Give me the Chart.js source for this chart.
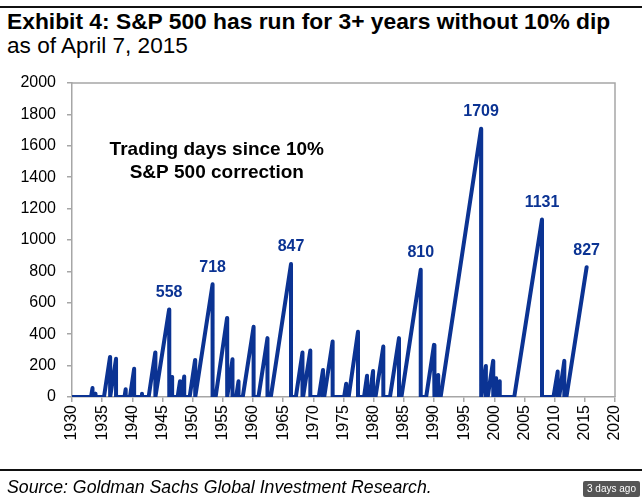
<!DOCTYPE html>
<html>
<head>
<meta charset="utf-8">
<script src="https://cdn.jsdelivr.net/npm/chart.js@4"></script>
<style>
  body { margin: 0; background: #fff; font-family: "Liberation Sans", Arial, sans-serif; }
  #wrap { position: relative; width: 642px; height: 499px; overflow: hidden; }
  #topline { position: absolute; left: 0; top: 6px; width: 642px; height: 2px; background: #111; }
  #title { position: absolute; left: 7px; top: 8px; font-size: 22.8px; font-weight: bold; color: #000; white-space: nowrap; }
  #sub { position: absolute; left: 7px; top: 33px; font-size: 22.6px; color: #000; white-space: nowrap; }
  #chartbox { position: absolute; left: 0; top: 0; width: 642px; height: 499px; }
  #botline { position: absolute; left: 0; top: 469px; width: 642px; height: 2px; background: #111; }
  #source { position: absolute; left: 7px; top: 477px; font-size: 17.7px; font-style: italic; color: #000; white-space: nowrap; }
  #badge { position: absolute; left: 583px; top: 481px; width: 57px; height: 16px; background: #555; color: #fff;
           font-size: 10px; line-height: 16px; text-align: center; border-radius: 2px; }
</style>
</head>
<body>
<div id="wrap">
  <div id="topline"></div>
  <div id="title">Exhibit 4: S&amp;P 500 has run for 3+ years without 10% dip</div>
  <div id="sub">as of April 7, 2015</div>
  <div id="chartbox"><canvas id="c" width="642" height="499"></canvas></div>
  <div id="botline"></div>
  <div id="source">Source: Goldman Sachs Global Investment Research.</div>
  <div id="badge">3 days ago</div>
</div>
<script>
// each run: day count restarts at startYears[i], reaches peakValues[i] at peakYears[i], then resets to 0
const startYears = [1933.15, 1933.75, 1935.3, 1936.35, 1938.7, 1939.6, 1941.5, 1942.7, 1943.85, 1946.15,
  1947.5, 1948.1, 1949.5, 1950.45, 1953.8, 1955.75, 1957.2, 1958.3, 1960.9, 1962.95,
  1967.1, 1968.3, 1970.9, 1971.8, 1975.1, 1975.85, 1978.4, 1979.3, 1980.3, 1982.7,
  1984.6, 1988.7, 1990.15, 1991.1, 1997.85, 1998.9, 1999.85, 2000.5, 2003.3, 2009.8,
  2010.75, 2011.95];
const peakYears = [1933.4, 1933.9, 1936.3, 1937.3, 1938.9, 1940.3, 1941.6, 1943.8, 1946.1, 1946.6,
  1947.9, 1948.6, 1950.4, 1953.3, 1955.7, 1956.6, 1957.6, 1960.1, 1962.4, 1966.3,
  1968.2, 1969.5, 1971.6, 1973.2, 1975.45, 1977.4, 1978.9, 1979.9, 1981.6, 1984.2,
  1987.8, 1990.0, 1990.7, 1997.8, 1998.6, 1999.8, 2000.3, 2000.9, 2007.9, 2010.5,
  2011.6, 2015.3];
const peakValues = [57, 20, 255, 243, 50, 180, 20, 283, 558, 128,
  100, 130, 236, 718, 503, 240, 100, 447, 375, 847,
  283, 296, 172, 353, 85, 415, 135, 165, 321, 375,
  810, 332, 140, 1709, 198, 230, 120, 100, 1131, 162,
  230, 827];
const labeledPeaks = [558, 718, 847, 810, 1709, 1131, 827];
const yTicks = [0, 200, 400, 600, 800, 1000, 1200, 1400, 1600, 1800, 2000];
const noteLines = ['Trading days since 10%', 'S&P 500 correction'];

const blue = '#0b3393';
const axisGray = '#a6a6a6';

// build the sawtooth
const pts = [{ x: 1930, y: 0 }];
startYears.forEach((s, i) => {
  pts.push({ x: s, y: 0 });
  pts.push({ x: peakYears[i], y: peakValues[i] });
  if (i < startYears.length - 1) pts.push({ x: peakYears[i], y: 0 });
});

const extras = {
  id: 'extras',
  afterDraw(chart) {
    const ctx = chart.ctx, a = chart.chartArea;
    const xs = chart.scales.x, ys = chart.scales.y;
    ctx.save();
    // box top and right
    ctx.strokeStyle = axisGray;
    ctx.lineWidth = 1.5;
    ctx.beginPath();
    ctx.moveTo(a.left, a.top);
    ctx.lineTo(a.right, a.top);
    ctx.lineTo(a.right, a.bottom);
    ctx.stroke();
    // peak labels
    ctx.fillStyle = blue;
    ctx.font = 'bold 16px "Liberation Sans", Arial, sans-serif';
    ctx.textAlign = 'center';
    ctx.textBaseline = 'bottom';
    peakValues.forEach((v, i) => {
      if (labeledPeaks.indexOf(v) < 0) return;
      ctx.fillText(String(v), xs.getPixelForValue(peakYears[i]), ys.getPixelForValue(v) - 9);
    });
    // note
    ctx.fillStyle = '#000';
    ctx.font = 'bold 19px "Liberation Sans", Arial, sans-serif';
    ctx.textBaseline = 'middle';
    ctx.fillText(noteLines[0], xs.getPixelForValue(1954), ys.getPixelForValue(1572));
    ctx.fillText(noteLines[1], xs.getPixelForValue(1954), ys.getPixelForValue(1431));
    ctx.restore();
  }
};

new Chart(document.getElementById('c'), {
  type: 'line',
  data: {
    datasets: [{
      data: pts,
      borderColor: blue,
      borderWidth: 4,
      borderJoinStyle: 'round',
      borderCapStyle: 'round',
      pointRadius: 0,
      tension: 0,
      fill: false
    }]
  },
  options: {
    responsive: false,
    animation: false,
    layout: { padding: { top: 83, right: 27, left: 0, bottom: 0 } },
    plugins: { legend: { display: false }, tooltip: { enabled: false } },
    scales: {
      x: {
        type: 'linear',
        min: 1930,
        max: 2020,
        afterFit(s) { s.height = 102; },
        ticks: {
          stepSize: 5,
          minRotation: 90,
          maxRotation: 90,
          padding: 3,
          color: '#000',
          font: { family: '"Liberation Sans", Arial, sans-serif', size: 16 },
          callback: v => String(v)
        },
        grid: { drawOnChartArea: false, drawTicks: true, tickLength: 5, color: axisGray, lineWidth: 1.5 },
        border: { display: true, color: axisGray, width: 1.5 }
      },
      y: {
        min: 0,
        max: 2000,
        afterFit(s) { s.width = 72; },
        afterBuildTicks(s) { s.ticks = yTicks.map(v => ({ value: v })); },
        ticks: {
          padding: 11,
          color: '#000',
          font: { family: '"Liberation Sans", Arial, sans-serif', size: 16 },
          callback: v => String(v)
        },
        grid: { drawOnChartArea: false, drawTicks: true, tickLength: 5, color: axisGray, lineWidth: 1.5 },
        border: { display: true, color: axisGray, width: 1.5 }
      }
    }
  },
  plugins: [extras]
});
</script>
</body>
</html>
